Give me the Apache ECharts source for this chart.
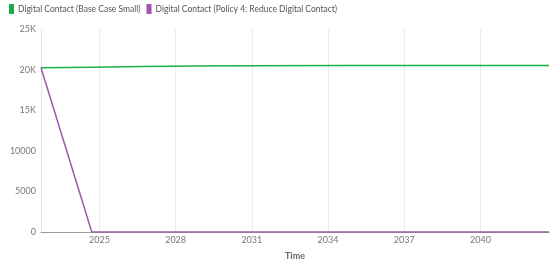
<!DOCTYPE html>
<html><head><meta charset="utf-8">
<script src="https://cdn.jsdelivr.net/npm/echarts@6/dist/echarts.min.js"></script>
<style>html,body{margin:0;padding:0;background:#fff}#c{width:550px;height:261px}</style>
</head><body><div id="c"></div>
<script>
const seriesNames = ['Digital Contact (Base Case Small)', 'Digital Contact (Policy 4: Reduce Digital Contact)'];
const baseYears = [2022.7, 2024.7, 2026.7, 2028.7, 2030.7, 2034.7, 2038.7, 2042.7];
const baseValues = [20220, 20300, 20380, 20440, 20480, 20500, 20510, 20510];
const policyYears = [2022.7, 2024.7, 2028.7, 2032.7, 2036.7, 2040.7, 2042.7];
const policyValues = [20220, 0, 0, 0, 0, 0, 0];
const xTicks = [2025, 2028, 2031, 2034, 2037, 2040];
const yTickLabels = {0: '0', 5000: '5000', 10000: '10000', 15000: '15K', 20000: '20K', 25000: '25K'};

const font = 'Lato, sans-serif';
const chart = echarts.init(document.getElementById('c'), null, {renderer: 'canvas'});
chart.setOption({
  animation: false,
  textStyle: {fontFamily: font},
  color: ['#1fad4a', '#a256b0'],
  legend: {
    left: 4, top: -1, itemWidth: 5, itemHeight: 10, itemGap: 6,
    icon: 'rect',
    textStyle: {fontFamily: font, fontSize: 8.5, color: '#555', padding: [0, 0, 0, -1]},
    data: seriesNames
  },
  grid: {left: 41, right: 1, top: 29, bottom: 29, containLabel: false, outerBoundsMode: 'none'},
  xAxis: {
    type: 'value', min: 2022.7, max: 2042.7,
    name: 'Time', nameLocation: 'middle', nameGap: 20,
    nameTextStyle: {fontFamily: font, fontSize: 9, fontWeight: 'bold', color: '#666'},
    axisLine: {show: true, lineStyle: {color: '#999', width: 1}},
    axisTick: {show: false, customValues: xTicks},
    axisLabel: {customValues: xTicks, fontSize: 9, color: '#777', margin: 4, formatter: v => String(Math.round(v))},
    splitLine: {show: true, lineStyle: {color: '#ececec'}}
  },
  yAxis: {
    type: 'value', min: 0, max: 25000, interval: 5000,
    name: 'Digital Contact', nameLocation: 'middle', nameGap: 28,
    nameTextStyle: {fontFamily: font, fontSize: 9, fontWeight: 'bold', color: '#666'},
    axisLine: {show: true, lineStyle: {color: '#e6e6e6'}},
    axisTick: {show: false},
    axisLabel: {fontSize: 9, color: '#777', margin: 5, formatter: v => yTickLabels[v] ?? String(v)},
    splitLine: {show: false}
  },
  series: [
    {name: seriesNames[0], type: 'line', symbol: 'none', lineStyle: {width: 1.5},
     data: baseYears.map((x, i) => [x, baseValues[i]])},
    {name: seriesNames[1], type: 'line', symbol: 'none', lineStyle: {width: 1.5},
     data: policyYears.map((x, i) => [x, policyValues[i]])}
  ]
});
</script></body></html>
